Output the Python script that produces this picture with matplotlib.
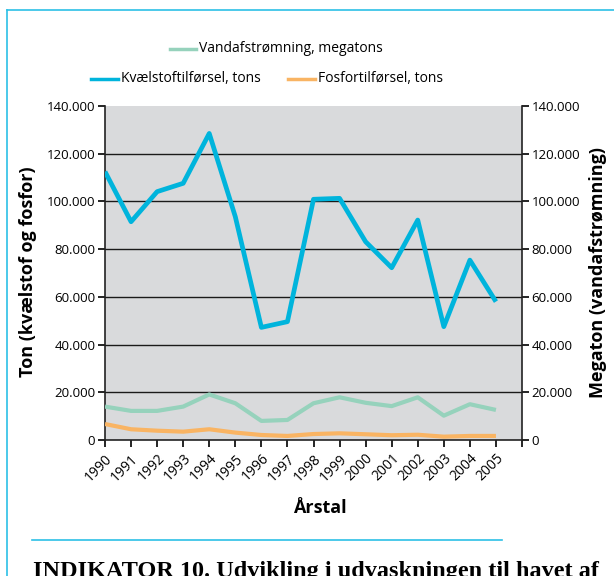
import matplotlib
matplotlib.use("Agg")
import matplotlib.pyplot as plt
from matplotlib.lines import Line2D
from matplotlib.ticker import FuncFormatter, FixedLocator
from matplotlib.transforms import ScaledTranslation

years = [str(y) for y in range(1990, 2006)]
kvaelstof = [112500, 91500, 104100, 107600, 128500, 93600, 47200, 49600,
             100900, 101300, 83100, 72200, 92200, 47500, 75400, 58000]
vand = [14000, 12200, 12200, 14000, 19100, 15400, 8000, 8400,
        15400, 17900, 15600, 14200, 17900, 10200, 15000, 12600]
fosfor = [6700, 4500, 3900, 3500, 4500, 3100, 2100, 1700,
          2500, 2800, 2400, 2000, 2200, 1400, 1700, 1700]
yticks = [0, 20000, 40000, 60000, 80000, 100000, 120000, 140000]

plt.rcParams['font.family'] = ['Open Sans', 'DejaVu Sans']

W, H = 614, 576
fig = plt.figure(figsize=(W / 100, H / 100), dpi=100)
fig.patch.set_facecolor('white')

ax = fig.add_axes([105 / W, 1 - 440 / H, (522 - 105) / W, (440 - 106) / H])
ax.set_facecolor('#d9dadc')

x = list(range(len(years)))
c_blue = '#00b4dc'
c_green = '#96d2bc'
c_orange = '#f9b463'

ax.plot(x, vand, color=c_green, lw=3.0, solid_capstyle='butt', zorder=3)
ax.plot(x, fosfor, color=c_orange, lw=3.0, solid_capstyle='butt', zorder=3)
ax.plot(x, kvaelstof, color=c_blue, lw=3.4, solid_capstyle='butt', zorder=4)

ax.set_xlim(0, 16)
ax.set_ylim(0, 140000)
fmt = FuncFormatter(lambda v, p: '0' if v == 0 else f'{int(v):,}'.replace(',', '.'))
ax.yaxis.set_major_locator(FixedLocator(yticks))
ax.yaxis.set_major_formatter(fmt)
for yv in yticks[1:-1]:
    ax.axhline(yv, color='#1a1a1a', lw=1.0, zorder=2)

ax.set_xticks(list(range(17)))
ax.set_xticklabels(years + [''], rotation=45, ha='right', va='top',
                   rotation_mode='anchor', fontsize=10)
off = ScaledTranslation(8 / 100, 0, fig.dpi_scale_trans)
for lab in ax.get_xticklabels():
    lab.set_transform(lab.get_transform() + off)
ax.tick_params(axis='x', direction='out', length=5, width=1.2, pad=3)
ax.tick_params(axis='y', direction='out', length=5, width=1.2, labelsize=9.5, pad=2)

ax.spines['top'].set_visible(False)
ax.spines['right'].set_visible(False)
for s in ['left', 'bottom']:
    ax.spines[s].set_linewidth(1.2)
    ax.spines[s].set_color('#222222')

ax2 = ax.twinx()
ax2.set_ylim(0, 140000)
ax2.yaxis.set_major_locator(FixedLocator(yticks))
ax2.yaxis.set_major_formatter(fmt)
ax2.tick_params(axis='y', direction='out', length=5, width=1.2, labelsize=9.5, pad=2)
ax2.spines['top'].set_visible(False)
ax2.spines['left'].set_visible(False)
ax2.spines['bottom'].set_visible(False)
ax2.spines['right'].set_linewidth(1.2)
ax2.spines['right'].set_color('#222222')

fig.text(28 / W, 1 - 272 / H, 'Ton (kvælstof og fosfor)', fontsize=13, fontweight='bold',
         rotation=90, ha='center', va='center')
fig.text(598 / W, 1 - 272 / H, 'Megaton (vandafstrømning)', fontsize=13, fontweight='bold',
         rotation=90, ha='center', va='center')
fig.text(320 / W, 1 - 508 / H, 'Årstal', fontsize=13, fontweight='bold',
         ha='center', va='center')

# legend
def leg(x0, x1, y, color, text):
    fig.add_artist(Line2D([x0 / W, x1 / W], [1 - y / H, 1 - y / H], color=color, lw=2.5,
                          transform=fig.transFigure))
    fig.text((x1 + 3) / W, 1 - y / H, text, fontsize=10, va='center', ha='left')

leg(170, 196, 49, c_green, 'Vandafstrømning, megatons')
leg(91, 118, 79, c_blue, 'Kvælstoftilførsel, tons')
leg(288, 315, 79, c_orange, 'Fosfortilførsel, tons')

# frame
frame_c = '#2cc0e6'
fig.add_artist(Line2D([7 / W, 1.0], [1 - 10 / H, 1 - 10 / H], color=frame_c, lw=1.2,
                      transform=fig.transFigure))
fig.add_artist(Line2D([7 / W, 7 / W], [0, 1 - 10 / H], color=frame_c, lw=1.2,
                      transform=fig.transFigure))
fig.add_artist(Line2D([32 / W, 502 / W], [1 - 540 / H, 1 - 540 / H], color=frame_c, lw=1.2,
                      transform=fig.transFigure))

fig.text(33 / W, 1 - 577 / H, 'INDIKATOR 10. Udvikling i udvaskningen til havet af',
         fontsize=17.5, fontweight='bold', family=['Liberation Serif', 'DejaVu Serif'],
         va='baseline', ha='left')

fig.savefig('out.png', dpi=100)
